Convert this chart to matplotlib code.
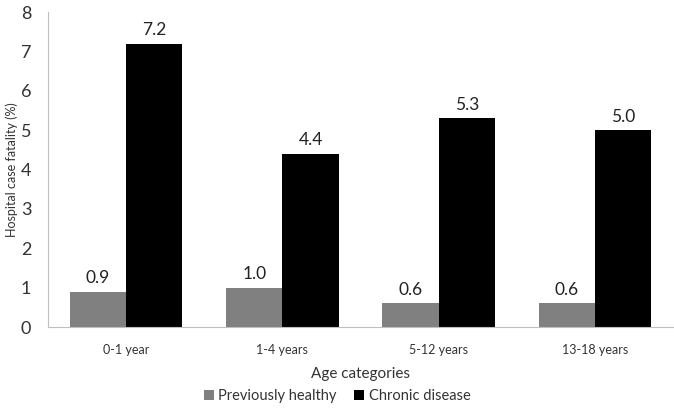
import numpy as np
import matplotlib
matplotlib.use("Agg")
import matplotlib.pyplot as plt

plt.rcParams['font.family'] = ['Lato', 'DejaVu Sans']

categories = ["0-1 year", "1-4 years", "5-12 years", "13-18 years"]
healthy = [0.9, 1.0, 0.6, 0.6]
chronic = [7.2, 4.4, 5.3, 5.0]

fig = plt.figure(figsize=(6.74, 4.08), dpi=100)
ax = fig.add_axes([0.0712, 0.1985, 0.9273, 0.772])

x = np.arange(len(categories))
w = 0.36
b1 = ax.bar(x - w / 2, healthy, w, color="#808080", label="Previously healthy")
b2 = ax.bar(x + w / 2, chronic, w, color="#000000", label="Chronic disease")

for bars, vals in [(b1, healthy), (b2, chronic)]:
    for r, v in zip(bars, vals):
        ax.annotate(f"{v:.1f}", (r.get_x() + r.get_width() / 2, v),
                    xytext=(0, 4), textcoords="offset points",
                    ha="center", va="bottom", fontsize=12.5, color="#222222")

ax.set_xlim(-0.5, len(categories) - 0.5)
ax.set_ylim(0, 8)
ax.set_yticks(range(0, 9))
ax.set_xticks(x)
ax.set_xticklabels(categories, fontsize=9, color="#333333")
ax.tick_params(axis="y", length=0, pad=12, labelsize=13, labelcolor="#333333")
ax.tick_params(axis="x", length=0, pad=12)

for s in ["top", "right"]:
    ax.spines[s].set_visible(False)
for s in ["left", "bottom"]:
    ax.spines[s].set_color("#bfbfbf")

ax.set_xlabel("Age categories", fontsize=11, color="#333333", labelpad=8)
ax.set_ylabel("Hospital case fatality (%)", fontsize=9, color="#333333", labelpad=2)

fig.legend(loc="lower center", bbox_to_anchor=(0.5, -0.02), ncol=2, frameon=False,
           fontsize=10.5, handlelength=0.7, handleheight=0.7, handletextpad=0.3,
           columnspacing=1.2, labelcolor="#333333")

fig.savefig("out.png", dpi=100)
